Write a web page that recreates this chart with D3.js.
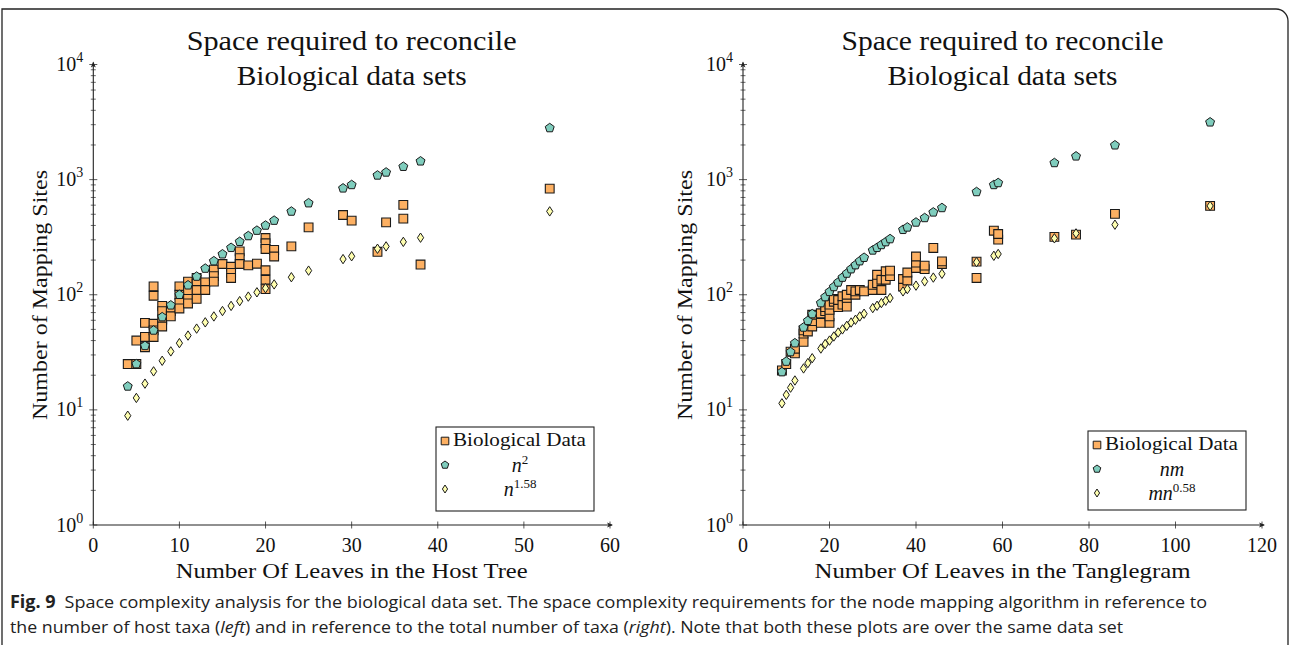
<!DOCTYPE html>
<html><head><meta charset="utf-8">
<script src="https://cdn.jsdelivr.net/npm/d3@7"></script>
<style>
html,body{margin:0;padding:0;background:#fff;}
svg{display:block;}
</style></head>
<body>
<svg id="chart" width="1290" height="645"></svg>
<script>
// ---------- DATA ----------
// Left panel: number of leaves in host tree
const hostN      = [4,5,6,7,8,9,10,11,12,13,14,15,16,17,18,19,20,21,23,25,29,30,33,34,36,38,53];
const hostSquare = [16,25,36,49,64,81,100,121,144,169,196,225,256,289,324,361,400,441,529,625,841,900,1089,1156,1296,1444,2809];
const hostPow158 = [8.9,12.7,16.9,21.6,26.7,32.2,38.0,44.2,50.8,57.6,64.8,72.2,80.0,88.0,96.4,105,114,123,142,162,204,216,251,263,288,313,530];
const bioHostX = [4,5,5,6,6,6,7,7,7,7,7,8,8,8,8,9,9,10,10,10,10,11,11,11,11,12,12,12,12,13,13,14,14,14,15,16,16,16,17,17,17,18,19,20,20,20,20,20,20,21,21,23,25,29,30,33,34,36,36,38,53];
const bioHostY = [25,25,40,57,43,35,118,98,56,49,43,80,72,61,53,72,65,118,100,85,76,130,108,92,84,140,125,110,92,128,110,165,145,130,185,175,155,140,238,208,185,180,186,311,280,250,163,135,112,245,215,263,385,493,440,236,425,603,458,183,835];

// Right panel: total number of leaves in tanglegram
const tangT   = [9,10,11,12,14,15,16,18,19,20,21,22,23,24,25,26,27,28,30,31,32,33,34,37,38,40,42,44,46,54,58,59,72,77,86,108];
const tangNM  = [21.3,26.3,31.8,38,52,59.4,68,84.7,95.5,106,117,128,141,153,167,181,196,210,243,256,271,287,305,367,385,425,465,520,568,782,900,936,1397,1595,1990,3150];
const tangMN058 = [11.4,13.5,15.6,18,22.9,25.5,28.1,34.1,37.3,40,43.4,47,50,53.7,57.4,60.6,64.8,68.4,76.6,80.2,84.7,88.7,93.6,107,112,120,130.6,141,152,192,218,226,309,341,406,591];
const bioTangX = [9,10,11,12,12,14,14,14,15,16,16,16,18,18,19,19,20,20,20,20,21,21,22,22,23,23,24,24,24,25,26,26,27,28,30,30,31,31,32,32,33,33,34,34,37,37,38,38,40,40,40,42,42,44,46,46,54,54,58,59,59,72,77,86,108];
const bioTangY = [22,25,32,31,34,39,46,49,48,53,59,67,57,69,72,78,57,65,74,82,87,92,78,90,82,97,79,94,100,110,100,107,110,107,110,122,126,149,110,135,135,160,145,162,118,137,133,156,171,190,215,167,179,255,185,195,140,194,360,301,337,318,333,504,591];

const yTicks = [1,10,100,1000,10000];
const yTickExp = ["0","1","2","3","4"];
const leftXTicks = [0,10,20,30,40,50,60];
const rightXTicks = [0,20,40,60,80,100,120];
const titleLines = ["Space required to reconcile","Biological data sets"];
const yLabel = "Number of Mapping Sites";
const leftXLabel = "Number Of Leaves in the Host Tree";
const rightXLabel = "Number Of Leaves in the Tanglegram";
const captionBold = "Fig. 9";
const captionLine1 = "Space complexity analysis for the biological data set. The space complexity requirements for the node mapping algorithm in reference to";
const captionLine2a = "the number of host taxa (";
const captionLine2b = "left";
const captionLine2c = ") and in reference to the total number of taxa (";
const captionLine2d = "right";
const captionLine2e = "). Note that both these plots are over the same data set";

// ---------- DRAWING ----------
const svg = d3.select("#chart");
const SERIF = "'Liberation Serif','DejaVu Serif',serif";
const C_OR = "#fdb062", C_TE = "#7fcdbd", C_YE = "#ffffb0";

// frame
svg.append("path").attr("d","M2,645V9H1276A12,12 0 0 1 1288,21V645")
  .attr("fill","none").attr("stroke","#222").attr("stroke-width",1.3);

const yScale = d3.scaleLog().domain([1,1e4]).range([525,64.5]);

function pentagon(cx, cy, r){
  const pts = d3.range(5).map(k => {
    const a = (-90 + k*72) * Math.PI/180;
    return [cx + r*Math.cos(a), cy + r*Math.sin(a)];
  });
  return "M" + pts.map(p => p.join(",")).join("L") + "Z";
}
function diamond(cx, cy, w, h){
  return `M${cx},${cy-h}L${cx+w},${cy}L${cx},${cy+h}L${cx-w},${cy}Z`;
}
function square(cx, cy, s){
  return `M${cx-s},${cy-s}H${cx+s}V${cy+s}H${cx-s}Z`;
}

function drawPanel(cfg){
  const g = svg.append("g");
  const x = d3.scaleLinear().domain(cfg.xDomain).range(cfg.xRange);
  const x0 = cfg.xRange[0], y0 = yScale(1), yTop = yScale(1e4);
  const cx = (cfg.xRange[0]+cfg.xRange[1])/2;

  // title
  titleLines.forEach((t,i)=>{
    g.append("text").attr("x",cx).attr("y",50+i*35)
      .attr("text-anchor","middle").attr("font-family",SERIF).attr("font-size",27)
      .attr("textLength",cfg.titleLen[i]).attr("lengthAdjust","spacingAndGlyphs")
      .attr("fill","#111").text(t);
  });

  // minor y ticks
  const minor = [];
  for(let e=0;e<4;e++) for(let m=2;m<=9;m++) minor.push(m*Math.pow(10,e));
  g.selectAll(".mn").data(minor).join("line")
    .attr("x1",x0-2.5).attr("x2",x0+2.5)
    .attr("y1",d=>yScale(d)).attr("y2",d=>yScale(d))
    .attr("stroke","#444").attr("stroke-width",0.8);
  g.selectAll(".mj").data(yTicks).join("line")
    .attr("x1",x0-4).attr("x2",x0+4)
    .attr("y1",d=>yScale(d)).attr("y2",d=>yScale(d))
    .attr("stroke","#444").attr("stroke-width",0.9);
  // y tick labels
  yTicks.forEach((d,i)=>{
    const t = g.append("text").attr("x",x0-10).attr("y",yScale(d)+6.5)
      .attr("text-anchor","end").attr("font-family",SERIF).attr("font-size",20).attr("fill","#111");
    t.append("tspan").text("10");
    t.append("tspan").attr("dy",-9).attr("font-size",14).text(yTickExp[i]);
  });
  // x ticks
  g.selectAll(".xt").data(cfg.xTicks).join("line")
    .attr("x1",d=>x(d)).attr("x2",d=>x(d)).attr("y1",y0-3.5).attr("y2",y0+3.5)
    .attr("stroke","#444").attr("stroke-width",0.9);
  g.selectAll(".xl").data(cfg.xTicks).join("text")
    .attr("x",d=>x(d)).attr("y",y0+27).attr("text-anchor","middle")
    .attr("font-family",SERIF).attr("font-size",20).attr("fill","#111").text(d=>d);

  // axis lines with arrows
  const xEnd = x(cfg.xDomain[1]);
  g.append("line").attr("x1",x0).attr("x2",xEnd+2).attr("y1",y0).attr("y2",y0).attr("stroke","#222").attr("stroke-width",1.1);
  g.append("line").attr("x1",x0).attr("x2",x0).attr("y1",y0).attr("y2",yTop-2).attr("stroke","#222").attr("stroke-width",1.1);
  g.append("path").attr("d",`M${xEnd+3},${y0}L${xEnd-3},${y0-2.5}L${xEnd-1.5},${y0}L${xEnd-3},${y0+2.5}Z`).attr("fill","#222");
  g.append("path").attr("d",`M${x0},${yTop-3}L${x0-2.5},${yTop+3}L${x0},${yTop+1.5}L${x0+2.5},${yTop+3}Z`).attr("fill","#222");

  // axis labels
  g.append("text").attr("x",cx).attr("y",578)
    .attr("text-anchor","middle").attr("font-family",SERIF).attr("font-size",22)
    .attr("textLength",cfg.xLabelLen).attr("lengthAdjust","spacingAndGlyphs")
    .attr("fill","#111").text(cfg.xLabel);
  g.append("text").attr("transform",`translate(${cfg.yLabelX},295) rotate(-90)`)
    .attr("text-anchor","middle").attr("font-family",SERIF).attr("font-size",22)
    .attr("textLength",250).attr("lengthAdjust","spacingAndGlyphs")
    .attr("fill","#111").text(yLabel);

  // data marks
  const mk = g.append("g");
  mk.selectAll(".sq").data(cfg.bioX.map((d,i)=>[d,cfg.bioY[i]])).join("path")
    .attr("d",d=>square(x(d[0]),yScale(d[1]),4.4))
    .attr("fill",C_OR).attr("stroke","#1a1a1a").attr("stroke-width",1.1);
  mk.selectAll(".pt").data(cfg.sX.map((d,i)=>[d,cfg.s1[i]])).join("path")
    .attr("d",d=>pentagon(x(d[0]),yScale(d[1]),4.7))
    .attr("fill",C_TE).attr("stroke","#1a1a1a").attr("stroke-width",1);
  mk.selectAll(".dm").data(cfg.sX.map((d,i)=>[d,cfg.s2[i]])).join("path")
    .attr("d",d=>diamond(x(d[0]),yScale(d[1]),3.1,4.7))
    .attr("fill",C_YE).attr("stroke","#1a1a1a").attr("stroke-width",1);

  // legend
  const L = cfg.legend;
  const lg = g.append("g");
  lg.append("rect").attr("x",L.x).attr("y",L.y).attr("width",L.w).attr("height",L.h)
    .attr("fill","#fff").attr("stroke","#222").attr("stroke-width",1.1);
  lg.append("path").attr("d",square(L.x+9,L.y+14,3.8)).attr("fill",C_OR).attr("stroke","#1a1a1a").attr("stroke-width",1);
  lg.append("path").attr("d",pentagon(L.x+9,L.y+38,4)).attr("fill",C_TE).attr("stroke","#1a1a1a").attr("stroke-width",1);
  lg.append("path").attr("d",diamond(L.x+9,L.y+62,2.6,4)).attr("fill",C_YE).attr("stroke","#1a1a1a").attr("stroke-width",1);
  lg.append("text").attr("x",L.x+17).attr("y",L.y+19).attr("font-family",SERIF).attr("font-size",19)
    .attr("textLength",133).attr("lengthAdjust","spacingAndGlyphs").attr("fill","#111").text("Biological Data");
  const t1 = lg.append("text").attr("x",L.x+84).attr("y",L.y+45).attr("text-anchor","middle")
    .attr("font-family",SERIF).attr("font-size",20).attr("fill","#111");
  t1.append("tspan").attr("font-style","italic").text(L.s1base);
  if(L.s1sup) t1.append("tspan").attr("dy",-8).attr("font-size",13).text(L.s1sup);
  const t2 = lg.append("text").attr("x",L.x+84).attr("y",L.y+69).attr("text-anchor","middle")
    .attr("font-family",SERIF).attr("font-size",20).attr("fill","#111");
  t2.append("tspan").attr("font-style","italic").text(L.s2base);
  t2.append("tspan").attr("dy",-8).attr("font-size",13).text(L.s2sup);
}

drawPanel({
  xDomain:[0,60], xRange:[93.3,610], xTicks:leftXTicks, xLabel:leftXLabel, yLabelX:47,
  titleLen:[330,230], xLabelLen:352,
  bioX:bioHostX, bioY:bioHostY, sX:hostN, s1:hostSquare, s2:hostPow158,
  legend:{x:436,y:427,w:158,h:84,s1base:"n",s1sup:"2",s2base:"n",s2sup:"1.58"}
});
drawPanel({
  xDomain:[0,120], xRange:[743,1262], xTicks:rightXTicks, xLabel:rightXLabel, yLabelX:692,
  titleLen:[322,230], xLabelLen:376,
  bioX:bioTangX, bioY:bioTangY, sX:tangT, s1:tangNM, s2:tangMN058,
  legend:{x:1088,y:431,w:158,h:79,s1base:"nm",s1sup:null,s2base:"mn",s2sup:"0.58"}
});

// caption
const SANS = "'Open Sans','Liberation Sans',sans-serif";
const c1 = svg.append("text").attr("x",10).attr("y",608).attr("font-family",SANS).attr("font-size",17).attr("fill","#222")
  .attr("textLength",1197).attr("lengthAdjust","spacingAndGlyphs");
c1.append("tspan").attr("font-weight","bold").text(captionBold);
c1.append("tspan").text("\u2002" + captionLine1);
const c2 = svg.append("text").attr("x",10).attr("y",633).attr("font-family",SANS).attr("font-size",17).attr("fill","#222")
  .attr("textLength",1113).attr("lengthAdjust","spacingAndGlyphs");
c2.append("tspan").text(captionLine2a);
c2.append("tspan").attr("font-style","italic").text(captionLine2b);
c2.append("tspan").text(captionLine2c);
c2.append("tspan").attr("font-style","italic").text(captionLine2d);
c2.append("tspan").text(captionLine2e);
</script>
</body></html>
